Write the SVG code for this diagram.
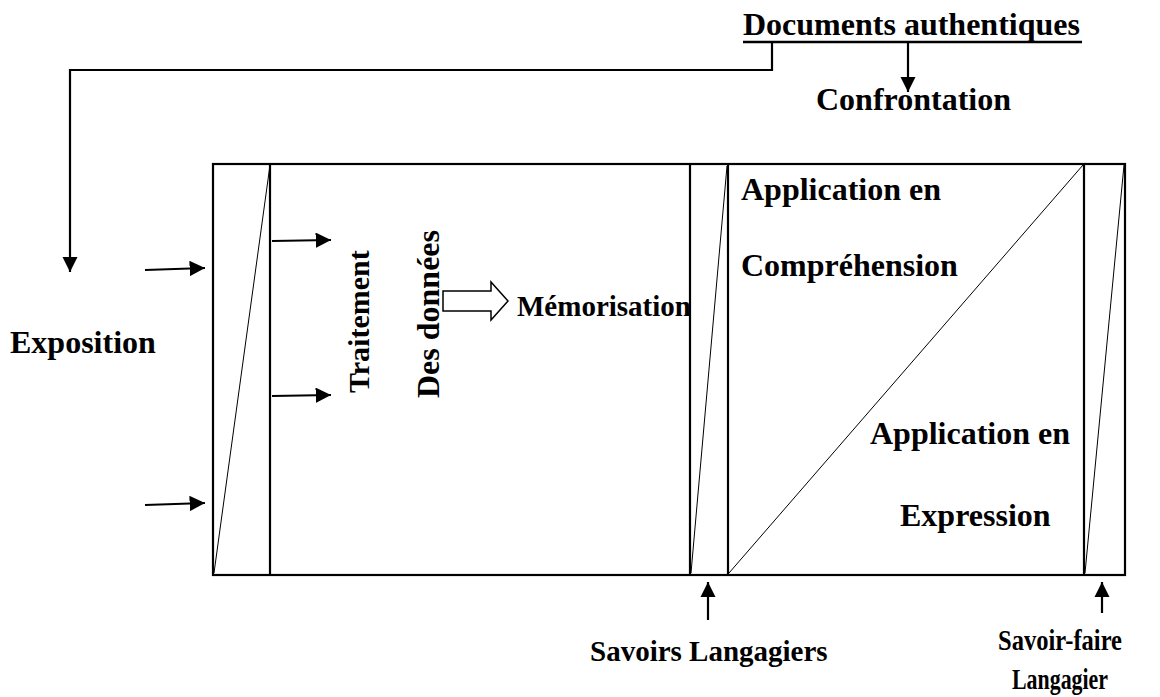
<svg xmlns="http://www.w3.org/2000/svg" width="1160" height="697" viewBox="0 0 1160 697">
  <style>
    .lbl { font-family: "Liberation Serif", "Times New Roman", serif; font-weight: bold; fill: #000; }
    .big { font-size: 32px; }
    .mid { font-size: 29px; }
    .frame { fill: none; stroke: #000; stroke-width: 2.2; }
    .thin { fill: none; stroke: #000; stroke-width: 1; }
    .wire { fill: none; stroke: #000; stroke-width: 2.2; }
  </style>
  <defs>
    <marker id="head" viewBox="0 0 10 10" refX="10" refY="5" markerWidth="7" markerHeight="7" markerUnits="strokeWidth" orient="auto">
      <path d="M0,0 L10,5 L0,10 z" fill="#000"/>
    </marker>
  </defs>
  <rect width="1160" height="697" fill="#fff"/>

  <!-- main frame with its strips -->
  <g id="frame">
    <rect class="frame" x="213" y="164" width="912" height="411"/>
    <line class="frame" x1="270" y1="164" x2="270" y2="575"/>
    <line class="frame" x1="690" y1="164" x2="690" y2="575"/>
    <line class="frame" x1="728" y1="164" x2="728" y2="575"/>
    <line class="frame" x1="1084" y1="164" x2="1084" y2="575"/>
    <line class="thin" x1="214" y1="573" x2="270" y2="165"/>
    <line class="thin" x1="691" y1="573" x2="727" y2="166"/>
    <line class="thin" x1="729" y1="573" x2="1083" y2="165"/>
    <line class="thin" x1="1085" y1="573" x2="1124" y2="165"/>
  </g>

  <g id="documents">
    <text class="lbl big" x="743" y="35">Documents authentiques</text>
    <line x1="743" y1="42" x2="1082" y2="42" stroke="#000" stroke-width="2.5"/>
  </g>
  <g id="confrontation"><text class="lbl big" x="816" y="110">Confrontation</text></g>
  <g id="exposition"><text class="lbl big" x="10" y="353">Exposition</text></g>
  <g id="traitement"><text class="lbl" font-size="30" transform="translate(369,393) rotate(-90)">Traitement</text></g>
  <g id="donnees"><text class="lbl big" transform="translate(439,398) rotate(-90)">Des données</text></g>
  <g id="memorisation"><text class="lbl mid" x="517" y="316">Mémorisation</text></g>
  <g id="comprehension">
    <text class="lbl big" x="741" y="200">Application en</text>
    <text class="lbl big" x="741" y="276">Compréhension</text>
  </g>
  <g id="expression">
    <text class="lbl big" x="870" y="444">Application en</text>
    <text class="lbl big" x="900" y="526">Expression</text>
  </g>
  <g id="savoirs"><text class="lbl mid" x="590" y="661">Savoirs Langagiers</text></g>
  <g id="savoir-faire">
    <text class="lbl mid" x="998" y="650" textLength="124" lengthAdjust="spacingAndGlyphs">Savoir-faire</text>
    <text class="lbl mid" x="1012" y="689" textLength="96" lengthAdjust="spacingAndGlyphs">Langagier</text>
  </g>

  <!-- connectors -->
  <g id="connectors">
    <polyline class="wire" points="772,42 772,70 70,70 70,272" marker-end="url(#head)"/>
    <line class="wire" x1="908" y1="42" x2="908" y2="92" marker-end="url(#head)"/>
    <line class="wire" x1="145" y1="270" x2="205" y2="268" marker-end="url(#head)"/>
    <line class="wire" x1="145" y1="505" x2="205" y2="503" marker-end="url(#head)"/>
    <line class="wire" x1="272" y1="241" x2="331" y2="240" marker-end="url(#head)"/>
    <line class="wire" x1="272" y1="396" x2="331" y2="395" marker-end="url(#head)"/>
    <line class="wire" x1="708" y1="620" x2="708" y2="582" marker-end="url(#head)"/>
    <line class="wire" x1="1102" y1="613" x2="1102" y2="582" marker-end="url(#head)"/>
    <path d="M443,291 L491,291 L491,282 L508,301 L491,320 L491,311 L443,311 z" fill="#fff" stroke="#000" stroke-width="1.5"/>
  </g>
</svg>
